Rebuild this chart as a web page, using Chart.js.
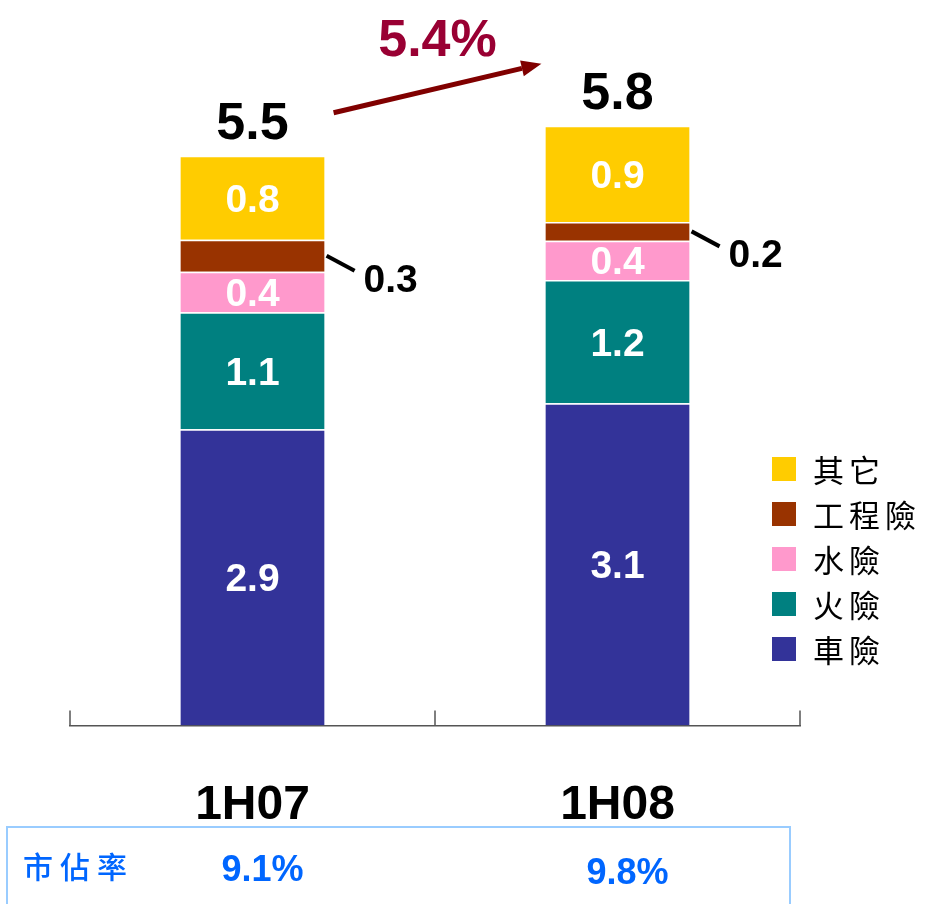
<!DOCTYPE html>
<html><head><meta charset="utf-8">
<script src="https://cdn.jsdelivr.net/npm/chart.js@4.4.0/dist/chart.umd.min.js"></script>
<style>html,body{margin:0;padding:0;background:#fff;} #wrap{width:925px;height:904px;position:relative;}</style>
</head><body><div id="wrap"><canvas id="c"></canvas></div>
<script>
const categories = ['1H07', '1H08'];
const seriesNames = ['車險', '火險', '水險', '工程險', '其它'];
const carValues = [2.86, 3.11];
const fireValues = [1.13, 1.19];
const marineValues = [0.39, 0.38];
const engValues = [0.31, 0.18];
const otherValues = [0.81, 0.93];
const growthLabel = '5.4%';
const shareTitle = '市佔率';
const shareValues = ['9.1%', '9.8%'];
const colors = ['#333399', '#008080', '#FF99CC', '#993300', '#FFCC00'];
const calloutSeries = 3;

const seriesValues = [carValues, fireValues, marineValues, engValues, otherValues];
const LAT = '"Liberation Sans", Arial, sans-serif';
const CJK = '"Noto Sans CJK TC", "Noto Sans CJK SC", sans-serif';

function textC(ctx, txt, x, cy, size, color, weight) {
  ctx.save();
  ctx.font = (weight || 'bold') + ' ' + size + 'px ' + LAT;
  ctx.fillStyle = color;
  ctx.textAlign = 'center';
  ctx.textBaseline = 'alphabetic';
  ctx.fillText(txt, x, cy + 0.358 * size);
  ctx.restore();
}
function spacedText(ctx, txt, x, cy, size, spacing, color, weight) {
  ctx.save();
  ctx.font = (weight || 'normal') + ' ' + size + 'px ' + CJK;
  ctx.fillStyle = color;
  ctx.textAlign = 'left';
  ctx.textBaseline = 'middle';
  let cx = x;
  for (const ch of txt) {
    ctx.fillText(ch, cx, cy);
    cx += ctx.measureText(ch).width + spacing;
  }
  ctx.restore();
}

const overlay = {
  id: 'overlay',
  afterDatasetsDraw(chart) {
    const ctx = chart.ctx;
    const n = categories.length;
    const tops = [];
    for (let i = 0; i < seriesValues.length; i++) {
      const meta = chart.getDatasetMeta(i);
      for (let j = 0; j < n; j++) {
        const el = meta.data[j];
        const p = el.getProps(['x', 'y', 'base', 'width'], true);
        const mid = (p.y + p.base) / 2;
        const label = seriesValues[i][j].toFixed(1);
        if (i === calloutSeries) {
          const right = p.x + p.width / 2;
          ctx.save();
          ctx.strokeStyle = '#000';
          ctx.lineWidth = 4;
          ctx.beginPath();
          ctx.moveTo(right + 2, mid);
          ctx.lineTo(right + 30, mid + 15);
          ctx.stroke();
          ctx.restore();
          textC(ctx, label, right + 66, mid + 22, 39, '#000');
        } else {
          textC(ctx, label, p.x, mid, 39, '#fff');
        }
        if (i === seriesValues.length - 1) tops.push(p);
      }
    }
    // totals
    const totals = categories.map((_, j) => seriesValues.reduce((s, a) => s + a[j], 0));
    tops.forEach((p, j) => textC(ctx, totals[j].toFixed(1), p.x, p.y - 35, 52, '#000'));
    // growth arrow
    const a = tops[0], b = tops[1];
    const x1 = a.x + a.width / 2 + 9, y1 = a.y - 43;
    const x2 = b.x - b.width / 2 - 4, y2 = b.y - 62;
    const ang = Math.atan2(y2 - y1, x2 - x1);
    const hl = 20, hw = 8;
    const bx = x2 - hl * Math.cos(ang), by = y2 - hl * Math.sin(ang);
    ctx.save();
    ctx.strokeStyle = '#800000';
    ctx.fillStyle = '#800000';
    ctx.lineWidth = 5;
    ctx.beginPath();
    ctx.moveTo(x1, y1);
    ctx.lineTo(bx, by);
    ctx.stroke();
    ctx.beginPath();
    ctx.moveTo(x2, y2);
    ctx.lineTo(bx + hw * Math.sin(ang), by - hw * Math.cos(ang));
    ctx.lineTo(bx - hw * Math.sin(ang), by + hw * Math.cos(ang));
    ctx.closePath();
    ctx.fill();
    ctx.restore();
    textC(ctx, growthLabel, (x1 + x2) / 2, (y1 + y2) / 2 - 51, 52, '#990033');
  },
  afterDraw(chart) {
    const ctx = chart.ctx;
    const xs = chart.scales.x;
    const area = chart.chartArea;
    // inward tick marks at category boundaries
    const half = (xs.getPixelForValue(1) - xs.getPixelForValue(0)) / 2;
    const bounds = [xs.getPixelForValue(0) - half];
    categories.forEach((_, j) => bounds.push(xs.getPixelForValue(j) + half));
    ctx.save();
    ctx.strokeStyle = '#555';
    ctx.lineWidth = 1.5;
    bounds.forEach(bx => {
      ctx.beginPath();
      ctx.moveTo(bx, area.bottom - 15);
      ctx.lineTo(bx, area.bottom);
      ctx.stroke();
    });
    ctx.restore();
    // legend (reversed order)
    const lx = 772, ly = 469, step = 45;
    for (let k = 0; k < seriesNames.length; k++) {
      const i = seriesNames.length - 1 - k;
      const cy = ly + k * step;
      ctx.fillStyle = colors[i];
      ctx.fillRect(lx, cy - 12, 24, 24);
      spacedText(ctx, seriesNames[i], lx + 41, cy + 1, 31, 5, '#000');
    }
    // market share table
    ctx.save();
    ctx.strokeStyle = '#99CCFF';
    ctx.lineWidth = 2;
    ctx.strokeRect(7, 827, 783, 120);
    ctx.restore();
    spacedText(ctx, shareTitle, 23, 867, 30, 7, '#0066FF', '500');
    shareValues.forEach((v, j) => textC(ctx, v, xs.getPixelForValue(j) + 10, 868 + j * 3, 36, '#0066FF'));
  }
};

new Chart(document.getElementById('c'), {
  type: 'bar',
  data: {
    labels: categories,
    datasets: seriesValues.map((vals, i) => ({
      label: seriesNames[i],
      data: vals,
      backgroundColor: colors[i],
      borderColor: '#ffffff',
      borderWidth: { top: 1.5, right: 0, bottom: 0, left: 0 },
      borderSkipped: false,
      barPercentage: 0.395,
      categoryPercentage: 1.0
    }))
  },
  options: {
    responsive: true,
    maintainAspectRatio: false,
    animation: false,
    layout: { padding: { left: 70, right: 125, top: 46, bottom: 17 } },
    plugins: { legend: { display: false }, tooltip: { enabled: false } },
    scales: {
      x: {
        stacked: true,
        grid: { display: false, drawTicks: false },
        border: { display: true, color: '#555', width: 1.5 },
        ticks: { color: '#000', padding: 52, font: { family: LAT, size: 48, weight: 'bold' } }
      },
      y: { stacked: true, display: false, min: 0, max: 6.56 }
    }
  },
  plugins: [overlay]
});
</script>
</body></html>
